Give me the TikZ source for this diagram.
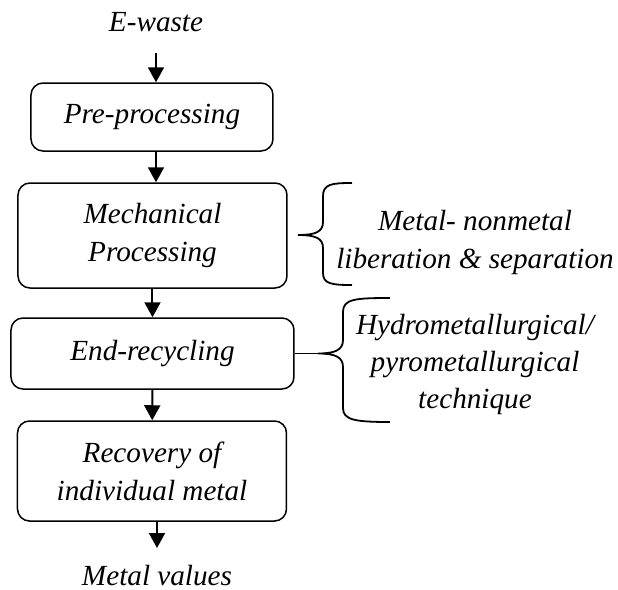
\documentclass[tikz,border=0pt]{standalone}
\usepackage{fontspec}
\setmainfont{Liberation Serif}
\usetikzlibrary{arrows.meta}
\begin{document}
\begin{tikzpicture}[x=0.5pt,y=-0.5pt,
  every node/.style={font=\fontsize{14.6pt}{19pt}\selectfont\itshape, inner sep=0pt, align=center},
  procbox/.style={draw, line width=0.75pt, rounded corners=6pt},
  flow/.style={line width=1pt, -{Triangle[length=7.5pt,width=8pt]}},
  bracket/.style={line width=0.9pt}]
\useasboundingbox (0,0) rectangle (618,590);
\node (in) at (156,22) {E-waste};
\node[procbox, minimum width=121pt, minimum height=34pt] (b1) at (152,117) {Pre-processing};
\node[procbox, minimum width=134.5pt, minimum height=52.5pt] (b2) at (152.5,235.5) {Mechanical\\Processing};
\node[procbox, minimum width=141.5pt, minimum height=35.5pt] (b3) at (152.5,353.5) {End-recycling};
\node[procbox, minimum width=134.5pt, minimum height=50pt] (b4) at (152,471) {Recovery of\\individual metal};
\node (out) at (157,576) {Metal values};
\coordinate (a0) at (156,53);
\coordinate (a5) at (157,548);
\draw[flow] (a0) -- (b1.north -| a0);
\draw[flow] (b1.south -| a0) -- (b2.north -| a0);
\draw[flow] (b2) -- (b3);
\draw[flow] (b3) -- (b4);
\draw[flow] (b4.south -| a5) -- (a5);
% brace 1
\coordinate (t1) at (298,235);
\draw[bracket] (352,183) .. controls (332,183) and (323,184) .. (323,196) -- (323,222)
  .. controls (323,232) and (315,235) .. (t1)
  .. controls (315,235) and (323,238) .. (323,248) -- (323,273)
  .. controls (323,284) and (332,285) .. (352,285);
\node (l1) at (475,242) {Metal- nonmetal\\liberation \& separation};
% brace 2
\coordinate (t2) at (318,353.5);
\draw[bracket] (b3.east) -- (t2);
\draw[bracket] (390,298) .. controls (355,298) and (343,299) .. (343,312) -- (343,340)
  .. controls (343,350) and (335,353.5) .. (t2)
  .. controls (335,353.5) and (343,357) .. (343,367) -- (343,408)
  .. controls (343,420) and (355,422) .. (390,422);
\node[font=\fontsize{14.6pt}{18.5pt}\selectfont\itshape] (l2) at (475,364) {Hydrometallurgical/\\pyrometallurgical\\technique};
\end{tikzpicture}
\end{document}
